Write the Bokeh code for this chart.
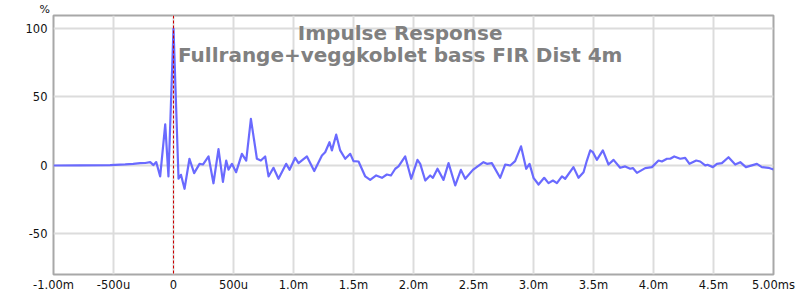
from bokeh.plotting import figure
from bokeh.models import Range1d, Label, FixedTicker, Span
from bokeh.embed import file_html
from bokeh.resources import INLINE

# Impulse response: time (ms) and amplitude (%)
time_ms = [-1.000, -0.778, -0.528, -0.403, -0.336, -0.278, -0.236, -0.194, -0.167, -0.144,
           -0.111, -0.069, -0.042, 0.000, 0.042, 0.062, 0.092, 0.133, 0.172, 0.217,
           0.245, 0.292, 0.333, 0.375, 0.412, 0.439, 0.458, 0.487, 0.522, 0.570,
           0.606, 0.645, 0.695, 0.728, 0.764, 0.792, 0.833, 0.875, 0.939, 0.967,
           1.014, 1.042, 1.112, 1.173, 1.237, 1.264, 1.300, 1.320, 1.356, 1.389,
           1.431, 1.473, 1.500, 1.542, 1.598, 1.639, 1.689, 1.737, 1.778, 1.812,
           1.848, 1.875, 1.931, 1.981, 2.033, 2.056, 2.098, 2.139, 2.162, 2.200,
           2.250, 2.292, 2.348, 2.395, 2.431, 2.495, 2.583, 2.612, 2.653, 2.722,
           2.764, 2.806, 2.847, 2.896, 2.939, 2.967, 3.000, 3.042, 3.089, 3.125,
           3.162, 3.195, 3.237, 3.264, 3.333, 3.375, 3.417, 3.445, 3.473, 3.495,
           3.528, 3.578, 3.625, 3.667, 3.722, 3.764, 3.806, 3.828, 3.862, 3.931,
           3.987, 4.042, 4.070, 4.112, 4.139, 4.173, 4.223, 4.264, 4.300, 4.356,
           4.389, 4.431, 4.450, 4.495, 4.528, 4.570, 4.625, 4.681, 4.723, 4.770,
           4.862, 4.903, 4.958, 5.000]
amplitude = [0.0, 0.1, 0.3, 0.8, 1.2, 1.7, 1.8, 2.4, 0.3, 2.5,
             -8.0, 30.0, -8.0, 100.0, -9.7, -6.8, -17.0, 4.9, -5.6, 1.2,
             0.7, 6.6, -13.0, 12.0, -12.0, 3.6, -3.0, 1.2, -4.9, 8.5,
             3.6, 34.0, 4.9, 3.6, 6.6, -8.0, -1.7, -9.7, 1.2, -3.1,
             5.6, 1.7, 6.6, -4.1, 7.3, 9.7, 17.0, 11.0, 22.5, 11.0,
             4.9, 8.5, 3.2, 2.9, -8.0, -10.5, -7.3, -9.0, -6.6, -7.3,
             -2.4, -0.7, 6.6, -9.7, 4.1, 1.2, -11.0, -7.3, -9.0, -2.4,
             -10.5, 1.7, -14.6, -3.2, -9.7, -3.2, 2.4, 1.2, 1.7, -9.0,
             0.7, 0.0, 3.2, 14.0, -2.4, 1.2, -9.0, -13.9, -9.0, -12.9,
             -11.0, -12.9, -8.0, -9.7, -1.2, -9.0, -4.9, 3.6, 11.0, 9.7,
             4.1, 11.0, 0.7, 4.1, -1.7, -0.7, -2.4, -1.9, -5.4, -1.9,
             -1.2, 3.6, 2.9, 4.9, 4.9, 6.6, 4.9, 5.6, 1.2, 3.6,
             2.9, 0.0, 0.5, -1.2, 1.2, 1.7, 6.0, 0.7, 2.4, -1.2,
             1.2, -1.2, -1.7, -2.9]

x_ticks = [-1.0, -0.5, 0.0, 0.5, 1.0, 1.5, 2.0, 2.5, 3.0, 3.5, 4.0, 4.5, 5.0]
x_tick_labels = ["-1.00m", "-500u", "0", "500u", "1.0m", "1.5m", "2.0m", "2.5m",
                 "3.0m", "3.5m", "4.0m", "4.5m", "5.00ms"]
y_ticks = [-50, 0, 50, 100]
y_tick_labels = ["-50", "0", "50", "100"]

title_line1 = "Impulse Response"
title_line2 = "Fullrange+veggkoblet bass FIR Dist 4m"
y_unit = "%"

FONT = "DejaVu Sans"

p = figure(width=800, height=295, output_backend="svg", toolbar_location=None,
           x_range=Range1d(-1.0, 5.0), y_range=Range1d(-79.6, 109.5),
           min_border_left=53, min_border_right=27, min_border_top=13, min_border_bottom=21,
           background_fill_color="white", border_fill_color="white",
           title=y_unit)

p.title.align = "left"
p.title.offset = -14
p.title.standoff = 0
p.title.text_font = FONT
p.title.text_font_size = "11px"
p.title.text_line_height = 0.9
p.title.text_font_style = "normal"
p.title.text_color = "#111111"

p.outline_line_color = "#a8a8a8"
p.outline_line_width = 2

for ax in (p.xaxis[0], p.yaxis[0]):
    ax.axis_line_color = None
    ax.major_tick_line_color = None
    ax.minor_tick_line_color = None
    ax.major_tick_out = 0
    ax.major_tick_in = 0
    ax.minor_tick_out = 0
    ax.major_label_text_font = FONT
    ax.major_label_text_font_size = "11.5px"
    ax.major_label_text_color = "#111111"

p.xaxis.ticker = FixedTicker(ticks=x_ticks)
p.xaxis.major_label_overrides = {t: l for t, l in zip(x_ticks, x_tick_labels)}
p.xaxis.major_label_standoff = 3
p.yaxis.ticker = FixedTicker(ticks=y_ticks)
p.yaxis.major_label_overrides = {t: l for t, l in zip(y_ticks, y_tick_labels)}
p.yaxis.major_label_standoff = 6

p.xgrid.ticker = FixedTicker(ticks=x_ticks)
p.ygrid.ticker = FixedTicker(ticks=y_ticks)
for g in (p.xgrid[0], p.ygrid[0]):
    g.grid_line_color = "#dcdcdc"
    g.grid_line_width = 2

p.line(time_ms, amplitude, line_color="#6262ff", line_width=2.2, line_alpha=0.95,
       line_join="round")

p.add_layout(Span(location=0, dimension="height", line_color="#cc0000",
                  line_width=1, line_dash="3 2"))

p.add_layout(Label(x=1.889, y=96.4, text=title_line1, text_align="center",
                   text_baseline="alphabetic", text_font=FONT, text_font_style="bold",
                   text_font_size="20px", text_color="#808080"))
p.add_layout(Label(x=1.889, y=81.0, text=title_line2, text_align="center",
                   text_baseline="alphabetic", text_font=FONT, text_font_style="bold",
                   text_font_size="20px", text_color="#808080"))

open("out.html", "w").write(file_html(p, INLINE))
